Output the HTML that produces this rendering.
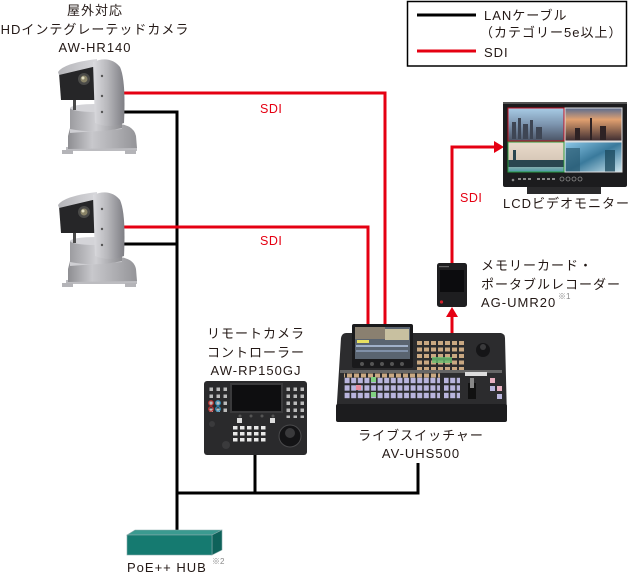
<!DOCTYPE html>
<html><head><meta charset="utf-8">
<style>
html,body{margin:0;padding:0;background:#fff;}
body{width:629px;height:573px;overflow:hidden;}
svg{display:block;}
text{font-family:"Liberation Sans","Noto Sans CJK JP",sans-serif;fill:#231815;font-size:13px;letter-spacing:1px;}
.r{fill:#e50012;font-size:12.5px;letter-spacing:0.5px;}
.sup{font-size:8px;fill:#888;letter-spacing:0;}
</style></head><body>
<svg width="629" height="573" viewBox="0 0 629 573" xmlns="http://www.w3.org/2000/svg">
<defs>
  <linearGradient id="yoke" x1="0" y1="0" x2="1" y2="0">
    <stop offset="0" stop-color="#dcdce0"/><stop offset="0.45" stop-color="#b8b8bc"/><stop offset="1" stop-color="#7e7e84"/>
  </linearGradient>
  <linearGradient id="base" x1="0" y1="0" x2="1" y2="0">
    <stop offset="0" stop-color="#8e8e92"/><stop offset="0.35" stop-color="#c8c8cc"/><stop offset="1" stop-color="#949498"/>
  </linearGradient>
  <linearGradient id="neck" x1="0" y1="0" x2="1" y2="0">
    <stop offset="0" stop-color="#9c9ca0"/><stop offset="0.5" stop-color="#cfcfd3"/><stop offset="1" stop-color="#8c8c90"/>
  </linearGradient>
  <linearGradient id="hood" x1="0" y1="0" x2="1" y2="0">
    <stop offset="0" stop-color="#b4b4b8"/><stop offset="1" stop-color="#d8d8dc"/>
  </linearGradient>
  <linearGradient id="q1" x1="0" y1="0" x2="0" y2="1">
    <stop offset="0" stop-color="#a8cce6"/><stop offset="0.5" stop-color="#7c94ae"/><stop offset="1" stop-color="#4a5466"/>
  </linearGradient>
  <linearGradient id="q2" x1="0" y1="0" x2="0" y2="1">
    <stop offset="0" stop-color="#5a6c90"/><stop offset="0.35" stop-color="#e0a070"/><stop offset="1" stop-color="#3c2c30"/>
  </linearGradient>
  <linearGradient id="q3" x1="0" y1="0" x2="0" y2="1">
    <stop offset="0" stop-color="#eadccc"/><stop offset="0.6" stop-color="#d8c8b8"/><stop offset="1" stop-color="#4a9aa8"/>
  </linearGradient>
  <linearGradient id="q4" x1="0" y1="0" x2="1" y2="1">
    <stop offset="0" stop-color="#8cc8e8"/><stop offset="0.5" stop-color="#3a7a9c"/><stop offset="1" stop-color="#d0e8f0"/>
  </linearGradient>
  <pattern id="lav" x="344" y="377" width="6.6" height="7.5" patternUnits="userSpaceOnUse">
    <rect x="0.6" y="0.8" width="5" height="5.4" fill="#b9b5dd"/>
  </pattern>
  <pattern id="tan" x="416" y="340" width="7" height="6.5" patternUnits="userSpaceOnUse">
    <rect x="1" y="1" width="5" height="4" fill="#c9a882"/>
  </pattern>
  <pattern id="wbtn" x="232" y="425" width="7" height="6" patternUnits="userSpaceOnUse">
    <rect x="1" y="1" width="4.5" height="3.5" fill="#e8e8e8"/>
  </pattern>
  <pattern id="gbtn" x="208" y="386" width="7" height="7" patternUnits="userSpaceOnUse">
    <rect x="1.5" y="1.5" width="3.5" height="3.5" fill="#bbbbbb"/>
  </pattern>
  <g id="cam">
    <!-- feet -->
    <rect x="66" y="147" width="71" height="4" fill="#bcbcc0"/>
    <rect x="62" y="150" width="11" height="4" fill="#b4b4b8"/>
    <rect x="125" y="150" width="11" height="4" fill="#b4b4b8"/>
    <!-- base -->
    <path d="M70,128 L120,124 Q134,126 136,136 L137,148 L68,149 L68,136 Z" fill="url(#base)"/>
    <path d="M70,128 L120,124 L122,129 L70,133 Z" fill="#cfcfd3"/>
    <!-- neck -->
    <path d="M70,108 L122,106 L122,128 Q96,134 70,129 Z" fill="url(#neck)"/>
    <ellipse cx="96" cy="108" rx="26" ry="4" fill="#d4d4d8"/>
    <rect x="73" y="96" width="3" height="14" fill="#4a4a4a"/>
    <!-- head dark front -->
    <path d="M59,73 L97,66 L97,100 L61,100 Z" fill="#262628"/>
    <circle cx="84" cy="79" r="6" fill="#4a4a48"/>
    <circle cx="84" cy="79" r="3.5" fill="#8a8468"/>
    <circle cx="83" cy="78" r="1.5" fill="#e0dcc0"/>
    <path d="M58,72 Q64,63 97,59 L97,66 L59,75 Z" fill="url(#hood)"/>
    <!-- yoke arm -->
    <path d="M93,62 Q110,55 120,67 Q126,80 124,123 Q110,129 95,123 Z" fill="url(#yoke)"/>
    <circle cx="102" cy="76" r="1.2" fill="#555"/>
    <circle cx="102" cy="96" r="1.2" fill="#555"/>
    <circle cx="102" cy="112" r="1.2" fill="#555"/>
  </g>
</defs>

<!-- Legend -->
<rect x="407.5" y="1.5" width="219" height="64.5" fill="none" stroke="#000" stroke-width="1.5"/>
<line x1="417" y1="15" x2="476" y2="15" stroke="#000" stroke-width="3"/>
<line x1="417" y1="51" x2="476" y2="51" stroke="#e50012" stroke-width="3"/>
<text x="484" y="20">LANケーブル</text>
<text x="480" y="37">（カテゴリー5e以上）</text>
<text x="484" y="57">SDI</text>

<!-- Top camera labels -->
<text x="95" y="15" text-anchor="middle">屋外対応</text>
<text x="95" y="34" text-anchor="middle">HDインテグレーテッドカメラ</text>
<text x="95" y="52" text-anchor="middle">AW-HR140</text>

<!-- connection lines: black LAN -->
<g stroke="#000" stroke-width="3" fill="none">
  <path d="M120,112 H177 V532"/>
  <path d="M120,244 H177"/>
  <path d="M177,493 H418 V463"/>
  <path d="M255,455 V493"/>
</g>
<!-- red SDI -->
<g stroke="#e50012" stroke-width="3" fill="none">
  <path d="M120,93 H385 V326"/>
  <path d="M120,227 H368 V326"/>
  <path d="M452,334 V316"/>
  <path d="M452,263 V147 H495"/>
</g>
<polygon points="446,317 458,317 452,307" fill="#e50012"/>
<polygon points="494,141 494,153 504,147" fill="#e50012"/>

<text class="r" x="260" y="113">SDI</text>
<text class="r" x="260" y="245">SDI</text>
<text class="r" x="460" y="202">SDI</text>

<!-- cameras -->
<use href="#cam"/>
<use href="#cam" transform="translate(0,133)"/>

<!-- Monitor -->
<rect x="503" y="102" width="124" height="85" rx="2" fill="#1c1c1e"/>
<rect x="503" y="102" width="124" height="2" fill="#555"/>
<rect x="508" y="108" width="56" height="33" fill="url(#q1)"/>
<rect x="565" y="108" width="57" height="33" fill="url(#q2)"/>
<rect x="508" y="142" width="56" height="30" fill="url(#q3)"/>
<rect x="565" y="142" width="57" height="30" fill="url(#q4)"/>
<g fill="#3e4654">
  <rect x="512" y="122" width="4" height="17"/><rect x="518" y="118" width="3" height="21"/>
  <rect x="523" y="124" width="5" height="15"/><rect x="530" y="120" width="3" height="19"/>
  <rect x="536" y="127" width="6" height="12"/>
</g>
<g fill="#2e2224">
  <rect x="575" y="128" width="5" height="12"/><rect x="590" y="118" width="2" height="22"/>
  <rect x="600" y="126" width="6" height="14"/>
</g>
<rect x="508" y="160" width="56" height="7" fill="#2a4650"/>
<rect x="513" y="150" width="3" height="12" fill="#2a4650"/>
<rect x="566" y="148" width="14" height="24" fill="#2a5a70" opacity="0.7"/>
<rect x="605" y="150" width="10" height="22" fill="#1e4c60" opacity="0.8"/>
<rect x="508" y="108" width="56" height="33" fill="none" stroke="#c01020" stroke-width="1"/>
<rect x="508" y="142" width="56" height="30" fill="none" stroke="#2a9a40" stroke-width="1"/>
<rect x="565" y="108" width="57" height="33" fill="none" stroke="#ddd" stroke-width="1"/>
<rect x="565" y="142" width="57" height="30" fill="none" stroke="#ddd" stroke-width="1"/>
<g fill="#8a8a8a">
  <circle cx="513" cy="180" r="1.3"/>
  <rect x="518" y="178" width="3" height="2"/><rect x="523" y="178" width="3" height="2"/><rect x="528" y="178" width="3" height="2"/>
  <rect x="537" y="178" width="3" height="2"/><rect x="542" y="178" width="3" height="2"/><rect x="547" y="178" width="3" height="2"/><rect x="552" y="178" width="3" height="2"/>
  <circle cx="562" cy="179" r="2" fill="none" stroke="#8a8a8a" stroke-width="0.8"/>
  <circle cx="568" cy="179" r="2" fill="none" stroke="#8a8a8a" stroke-width="0.8"/>
  <circle cx="574" cy="179" r="2" fill="none" stroke="#8a8a8a" stroke-width="0.8"/>
  <circle cx="580" cy="179" r="2" fill="none" stroke="#8a8a8a" stroke-width="0.8"/>
</g>
<rect x="527" y="187" width="74" height="7" fill="#2a2a2c"/>
<text x="503" y="208">LCDビデオモニター</text>

<!-- Recorder -->
<rect x="437" y="263" width="30" height="44" rx="2.5" fill="#1e1e20"/>
<rect x="440" y="270" width="24" height="22" fill="#0c0c0e"/>
<rect x="439" y="266" width="10" height="1.2" fill="#666"/>
<circle cx="441.5" cy="302" r="1.6" fill="#d0202a"/>
<text x="481" y="270">メモリーカード・</text>
<text x="481" y="289">ポータブルレコーダー</text>
<text x="481" y="307">AG-UMR20</text>
<text class="sup" x="558" y="299">※1</text>

<!-- Switcher -->
<path d="M346,333 L501,333 Q505,334 505,338 L507,418 Q507,422 503,422 L340,422 Q336,422 336,418 L341,338 Q342,333 346,333 Z" fill="#2c2c2e"/>
<rect x="336" y="404" width="171" height="18" rx="2" fill="#1c1c1e"/>
<rect x="352" y="324" width="61" height="44" rx="2" fill="#1a1a1c"/>
<rect x="355" y="327" width="55" height="32" fill="#5a6470"/>
<rect x="355" y="327" width="30" height="12" fill="#8a8070"/>
<rect x="385" y="329" width="24" height="11" fill="#c8c0a0"/>
<rect x="357" y="340" width="12" height="3" fill="#e8e060"/>
<rect x="356" y="345" width="52" height="2" fill="#a0b0c8"/>
<rect x="356" y="350" width="52" height="2" fill="#8090a8"/>
<g fill="#555"><circle cx="362" cy="364" r="2"/><circle cx="372" cy="364" r="2"/><circle cx="382" cy="364" r="2"/><circle cx="392" cy="364" r="2"/><circle cx="402" cy="364" r="2"/></g>
<rect x="416" y="340" width="50" height="32" fill="url(#tan)"/>
<rect x="432" y="357" width="20" height="6" fill="#6ac070" opacity="0.8"/>
<circle cx="483" cy="350" r="7" fill="#151517"/>
<circle cx="483" cy="347" r="3" fill="#3a3a3c"/>
<rect x="340" y="370" width="162" height="3" fill="#666"/>
<rect x="344" y="373" width="96" height="5" fill="url(#tan)"/>
<rect x="344" y="377" width="96" height="23" fill="url(#lav)"/>
<rect x="356" y="385" width="5" height="5" fill="#e88a9a"/>
<rect x="371" y="377" width="5" height="5" fill="#80d080"/>
<rect x="371" y="392" width="5" height="5" fill="#80d080"/>
<rect x="444" y="377" width="16" height="22" fill="url(#lav)"/>
<rect x="465" y="372" width="22" height="4" fill="#ddd"/>
<rect x="468" y="383" width="8" height="16" fill="#111"/>
<rect x="470" y="378" width="4" height="10" fill="#888"/>
<rect x="490" y="378" width="5" height="5" fill="#e8b0c0"/>
<rect x="490" y="386" width="5" height="5" fill="#b9b5dd"/>
<rect x="497" y="386" width="5" height="5" fill="#e8b0c0"/>
<rect x="497" y="394" width="5" height="5" fill="#b9b5dd"/>
<text x="421" y="440" text-anchor="middle">ライブスイッチャー</text>
<text x="421" y="458" text-anchor="middle">AV-UHS500</text>

<!-- Remote camera controller -->
<text x="256" y="338" text-anchor="middle">リモートカメラ</text>
<text x="256" y="357" text-anchor="middle">コントローラー</text>
<text x="256" y="375" text-anchor="middle">AW-RP150GJ</text>
<rect x="204" y="381" width="103" height="74" rx="3" fill="#2a2a2c"/>
<rect x="230" y="383" width="53" height="30" fill="#3a3a3c"/>
<rect x="232" y="385" width="49" height="26" fill="#0e0e10"/>
<rect x="208" y="386" width="21" height="28" fill="url(#gbtn)"/>
<rect x="286" y="386" width="18" height="32" fill="url(#gbtn)"/>
<circle cx="211" cy="403" r="2.3" fill="none" stroke="#c03030" stroke-width="1.2"/>
<circle cx="218" cy="403" r="2.3" fill="none" stroke="#3090c0" stroke-width="1.2"/>
<circle cx="211" cy="409" r="2.3" fill="none" stroke="#c03030" stroke-width="1.2"/>
<circle cx="218" cy="409" r="2.3" fill="none" stroke="#3090c0" stroke-width="1.2"/>
<rect x="232" y="425" width="36" height="18" fill="url(#wbtn)"/>
<rect x="237" y="418" width="5" height="5" fill="#ddd"/>
<rect x="270" y="418" width="5" height="5" fill="#ddd"/>
<circle cx="290" cy="436" r="11" fill="#141416" stroke="#4a4a4c" stroke-width="1"/>
<circle cx="290" cy="433" r="5" fill="#3a3a3c"/>
<circle cx="226" cy="445" r="4" fill="#3a3a3c"/>
<circle cx="212" cy="424" r="3" fill="#3a3a3c"/>
<g fill="#555"><circle cx="240" cy="416" r="1.5"/><circle cx="251" cy="416" r="1.5"/><circle cx="262" cy="416" r="1.5"/><circle cx="273" cy="416" r="1.5"/></g>

<!-- PoE HUB -->
<polygon points="127,535 135,530 222,530 212,535" fill="#3a9a90" stroke="#8aa" stroke-width="0.6"/>
<polygon points="212,535 222,530 222,550 212,555" fill="#0e625a" stroke="#8aa" stroke-width="0.6"/>
<rect x="127" y="535" width="85" height="20" fill="#157a70" stroke="#8aa" stroke-width="0.6"/>
<text x="127" y="572">PoE++ HUB</text>
<text class="sup" x="212" y="564">※2</text>
</svg>
</body></html>
